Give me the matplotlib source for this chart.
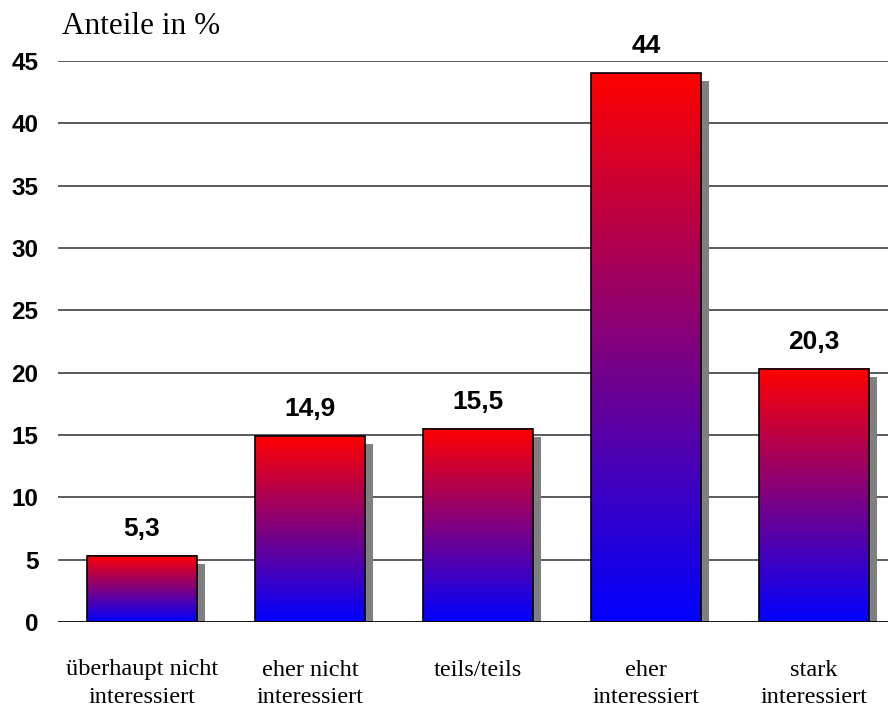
import numpy as np
import matplotlib
matplotlib.use("Agg")
import matplotlib.pyplot as plt
from matplotlib.colors import LinearSegmentedColormap
from matplotlib.patches import Rectangle

# Daten
kategorien = ["überhaupt nicht\ninteressiert", "eher nicht\ninteressiert", "teils/teils",
              "eher\ninteressiert", "stark\ninteressiert"]
anteile = [5.3, 14.9, 15.5, 44, 20.3]
beschriftung = ["5,3", "14,9", "15,5", "44", "20,3"]
y_ticks = [0, 5, 10, 15, 20, 25, 30, 35, 40, 45]

fig = plt.figure(figsize=(8.88, 7.08), dpi=100)
ax = fig.add_axes([58 / 888, 86 / 708, 830 / 888, 561 / 708])

cmap = LinearSegmentedColormap.from_list("rotblau", ["#0000ff", "#ff0000"])
grad = np.linspace(0, 1, 256).reshape(-1, 1)

breite = 0.65
schatten_dx = 0.048
schatten_dy = 0.64

for i, h in enumerate(anteile):
    x0 = i - breite / 2
    # Schatten
    ax.add_patch(Rectangle((x0 + schatten_dx, 0), breite, h - schatten_dy,
                           facecolor="#808080", edgecolor="none", zorder=2))
    # Farbverlauf
    ax.imshow(grad, cmap=cmap, extent=(x0, x0 + breite, 0, h), origin="lower",
              aspect="auto", zorder=3, interpolation="bilinear")
    ax.add_patch(Rectangle((x0, 0), breite, h, facecolor="none",
                           edgecolor="black", linewidth=1.2, zorder=4))
    ax.annotate(beschriftung[i], (i, h), xytext=(0, 14.5), textcoords="offset points",
                ha="center", va="baseline", fontsize=19, fontweight="bold",
                family="Liberation Sans")

for t in y_ticks[1:]:
    ax.axhline(t, color="#404040", linewidth=1.2, zorder=1)
ax.axhline(0, color="black", linewidth=2, zorder=5)

ax.set_xlim(-0.5, 4.44)
ax.set_ylim(0, 45)
ax.set_yticks(y_ticks)
ax.set_yticklabels([str(t) for t in y_ticks], fontsize=17.5, fontweight="bold",
                   family="Liberation Sans")
ax.set_xticks(range(len(kategorien)))
ax.set_xticklabels(kategorien, fontsize=17.5, family="Liberation Serif", linespacing=1.38)
ax.tick_params(axis="y", length=0, pad=14)
ax.tick_params(axis="x", length=0, pad=27)
for s in ax.spines.values():
    s.set_visible(False)

fig.text(62 / 888, 1 - 34 / 708, "Anteile in %", fontsize=22.5, family="Liberation Serif",
         ha="left", va="baseline")

fig.savefig("out.png", dpi=100)
